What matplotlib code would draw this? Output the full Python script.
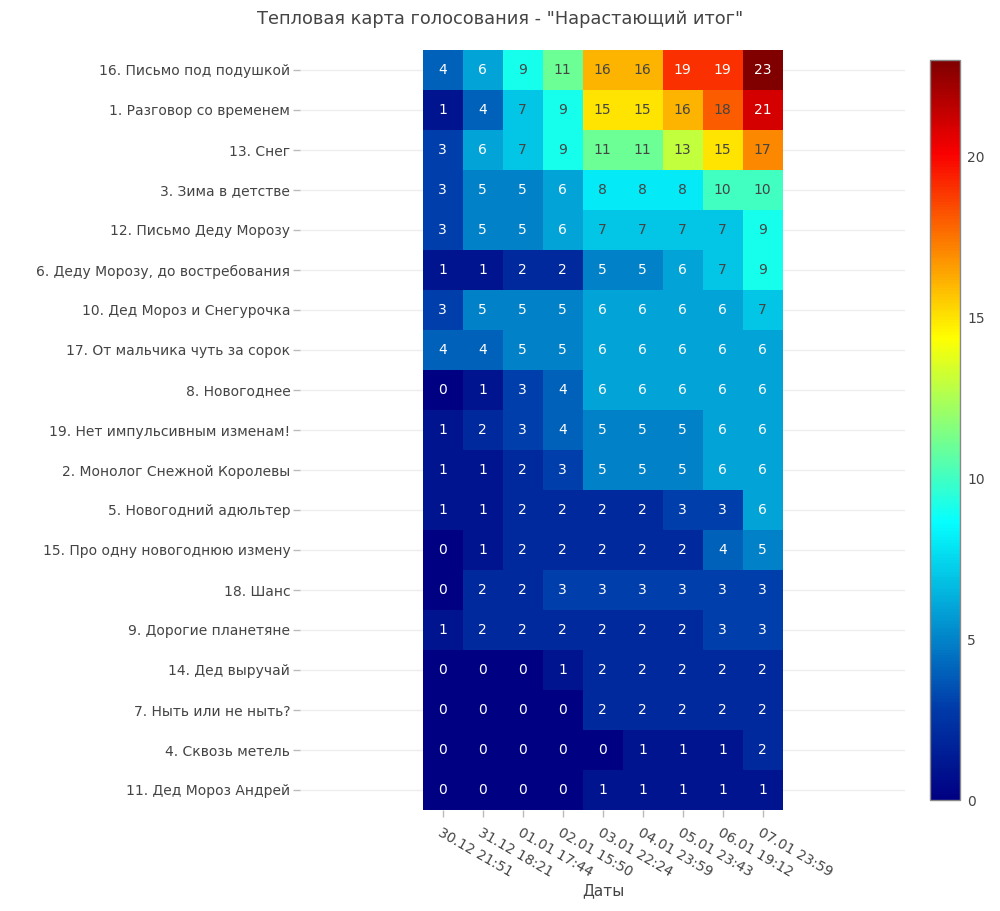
import numpy as np
import matplotlib
matplotlib.use("Agg")
import matplotlib.pyplot as plt
from matplotlib.colors import LinearSegmentedColormap, Normalize

plt.rcParams['font.family'] = ['DejaVu Sans']

title = 'Тепловая карта голосования - "Нарастающий итог"'
x_title = 'Даты'
dates = ['30.12 21:51', '31.12 18:21', '01.01 17:44', '02.01 15:50', '03.01 22:24',
         '04.01 23:59', '05.01 23:43', '06.01 19:12', '07.01 23:59']
# rows listed top to bottom
entries = [
    '16. Письмо под подушкой',
    '1. Разговор со временем',
    '13. Снег',
    '3. Зима в детстве',
    '12. Письмо Деду Морозу',
    '6. Деду Морозу, до востребования',
    '10. Дед Мороз и Снегурочка',
    '17. От мальчика чуть за сорок',
    '8. Новогоднее',
    '19. Нет импульсивным изменам!',
    '2. Монолог Снежной Королевы',
    '5. Новогодний адюльтер',
    '15. Про одну новогоднюю измену',
    '18. Шанс',
    '9. Дорогие планетяне',
    '14. Дед выручай',
    '7. Ныть или не ныть?',
    '4. Сквозь метель',
    '11. Дед Мороз Андрей',
]
votes = [
    [4, 6, 9, 11, 16, 16, 19, 19, 23],
    [1, 4, 7, 9, 15, 15, 16, 18, 21],
    [3, 6, 7, 9, 11, 11, 13, 15, 17],
    [3, 5, 5, 6, 8, 8, 8, 10, 10],
    [3, 5, 5, 6, 7, 7, 7, 7, 9],
    [1, 1, 2, 2, 5, 5, 6, 7, 9],
    [3, 5, 5, 5, 6, 6, 6, 6, 7],
    [4, 4, 5, 5, 6, 6, 6, 6, 6],
    [0, 1, 3, 4, 6, 6, 6, 6, 6],
    [1, 2, 3, 4, 5, 5, 5, 6, 6],
    [1, 1, 2, 3, 5, 5, 5, 6, 6],
    [1, 1, 2, 2, 2, 2, 3, 3, 6],
    [0, 1, 2, 2, 2, 2, 2, 4, 5],
    [0, 2, 2, 3, 3, 3, 3, 3, 3],
    [1, 2, 2, 2, 2, 2, 2, 3, 3],
    [0, 0, 0, 1, 2, 2, 2, 2, 2],
    [0, 0, 0, 0, 2, 2, 2, 2, 2],
    [0, 0, 0, 0, 0, 1, 1, 1, 2],
    [0, 0, 0, 0, 1, 1, 1, 1, 1],
]
cbar_ticks = [0, 5, 10, 15, 20]

# plotly Jet colorscale
stops = [(0.0, (0, 0, 131)), (0.125, (0, 60, 170)), (0.375, (5, 255, 255)),
         (0.625, (255, 255, 0)), (0.875, (250, 0, 0)), (1.0, (128, 0, 0))]
cmap = LinearSegmentedColormap.from_list(
    'pjet', [(p, tuple(c / 255 for c in rgb)) for p, rgb in stops])

Z = np.array(votes, dtype=float)
n_rows, n_cols = Z.shape
vmin, vmax = 0, Z.max()
norm = Normalize(vmin=vmin, vmax=vmax)

fig = plt.figure(figsize=(10, 9.11), dpi=100)
ax = fig.add_axes([0.30, 1 - 810 / 911, 0.605, 760 / 911])

Zplot = Z[::-1]
ax.imshow(Zplot, cmap=cmap, norm=norm, origin='lower', aspect='auto',
          extent=(-0.5, n_cols - 0.5, -0.5, n_rows - 0.5), zorder=2,
          interpolation='nearest')

half = 605 / 40 / 2
cx = (n_cols - 1) / 2
ax.set_xlim(cx - half, cx + half)
ax.set_ylim(-0.5, n_rows - 0.5)

for i in range(n_rows):
    for j in range(n_cols):
        v = Z[i, j]
        r, g, b, _ = cmap(norm(v))
        bright = (r * 299 + g * 587 + b * 114) / 1000 * 255
        col = '#444444' if bright >= 128 else 'white'
        ax.text(j, n_rows - 1 - i, f'{int(v)}', ha='center', va='center',
                fontsize=10, color=col, zorder=3)

ax.set_yticks(range(n_rows))
ax.set_yticklabels(entries[::-1], fontsize=10, color='#444444')
ax.set_xticks(range(n_cols))
ax.set_xticklabels(dates, fontsize=10, color='#444444', rotation=-30,
                   ha='left', va='top', rotation_mode='anchor')
ax.tick_params(axis='both', length=5, width=1, color='#bbbbbb', pad=2)
ax.tick_params(axis='x', pad=6)
ax.grid(axis='y', color='#eeeeee', lw=1, zorder=0)
ax.set_axisbelow(True)
for s in ax.spines.values():
    s.set_visible(False)

fig.text(603 / 1000, 1 - 891 / 911, x_title, ha='center', va='center',
         fontsize=11, color='#444444')
fig.text(500 / 1000, 1 - 19 / 911, title, ha='center', va='center',
         fontsize=12.8, color='#444444')

cax = fig.add_axes([0.930, 1 - 800 / 911, 0.030, 740 / 911])
sm = matplotlib.cm.ScalarMappable(norm=norm, cmap=cmap)
cb = fig.colorbar(sm, cax=cax)
cb.set_ticks(cbar_ticks)
cb.ax.tick_params(length=0, labelsize=10, labelcolor='#444444', pad=5)
cb.outline.set_edgecolor('#888888')
cb.outline.set_linewidth(1)

fig.savefig('out.png', dpi=100)
